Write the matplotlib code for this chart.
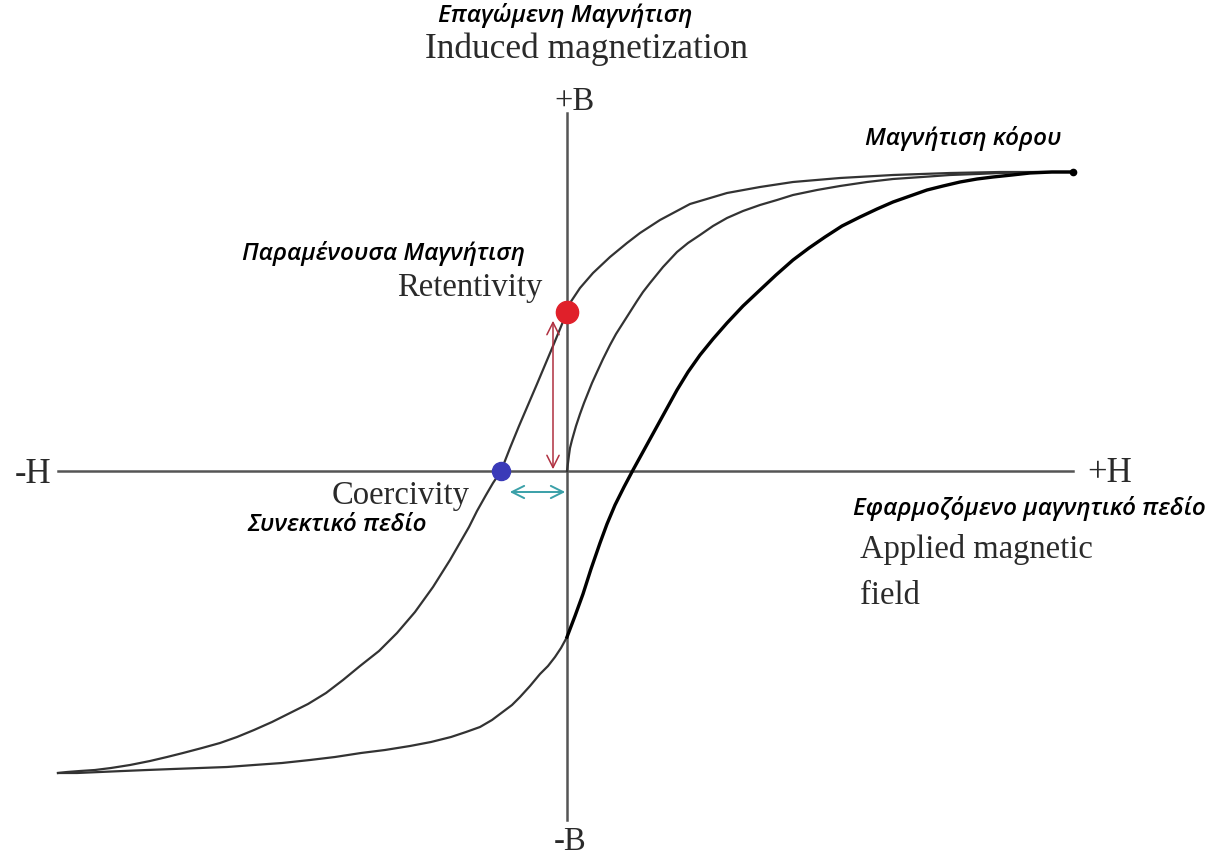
import matplotlib
matplotlib.use('Agg')
import matplotlib.pyplot as plt

# hysteresis loop, H and B in picture units (origin at axis crossing)
upper_H = [506, 433, 383, 326, 273, 226, 193, 160, 123, 93, 73, 60, 43, 26, 13, 3, 0,
           -7, -14, -22, -30, -39, -48, -57, -66, -74, -81, -90, -98, -117, -134, -152, -170,
           -188, -207, -224, -241, -259, -277, -295, -313, -330, -347, -365, -384, -400,
           -417, -437, -456, -472, -487, -500, -509]
upper_B = [299, 299, 298, 296, 293, 289, 284, 278, 267, 251, 238, 228, 214, 198, 183, 168, 159,
           142, 125, 106, 87, 66, 45, 23, 0, -12, -24, -40, -56, -89, -116, -141, -162,
           -180, -195, -209, -222, -233, -242, -251, -259, -266, -272, -277, -282, -286,
           -290, -294, -297, -299, -300, -301, -302]

initial_H = [0, 1, 2, 3, 5, 9, 13, 17, 21, 25, 30, 36, 43, 49, 56, 63, 70, 76, 83, 96, 110,
             121, 133, 146, 160, 176, 193, 210, 226, 250, 273, 300, 326, 355, 383, 410, 433, 470, 506]
initial_B = [0, 8, 16, 23, 31, 45, 57, 68, 78, 88, 99, 112, 126, 137, 148, 159, 170, 179, 188, 204, 219,
             228, 236, 245, 253, 260, 266, 271, 276, 281, 285, 289, 292, 294, 296, 297, 298, 299, 299]

lower_H = [-509, -490, -467, -444, -420, -394, -367, -340, -313, -285, -257, -232, -206,
           -182, -157, -136, -116, -101, -87, -75, -63, -55, -47, -37, -27, -19, -12, -6, 0]
lower_B = [-302, -302, -301, -300, -299, -298, -297, -296, -294, -292, -289, -286, -282,
           -279, -275, -271, -266, -261, -256, -249, -240, -234, -226, -215, -203, -195, -186, -177, -166]

bold_H = [0, 8, 16, 24, 33, 40, 48, 57, 66, 77, 88, 99, 110, 121, 133, 146, 160, 176, 193,
          209, 226, 242, 258, 275, 293, 310, 326, 343, 360, 376, 393, 410, 426, 445, 463, 485, 506]
bold_B = [-166, -145, -123, -98, -72, -53, -34, -16, 1, 21, 41, 61, 81, 99, 116, 132, 148, 165, 181,
          196, 211, 223, 234, 245, 254, 262, 269, 275, 281, 285, 289, 292, 294, 296, 298, 299, 299]

retentivity = (0, 159)
coercivity = (-66, 0)
saturation = (506, 299)

serif = 'Liberation Serif'
greek = dict(family='Open Sans', style='italic', weight=600, fontsize=17.5, color='black')
eng = dict(family=serif, fontsize=23.5, color='#2a2a2a')

fig = plt.figure(figsize=(12.29, 8.55), dpi=100)
ax = fig.add_axes([0, 0, 1, 1])
ax.set_xlim(-567, 662)
ax.set_ylim(-384, 471)
ax.axis('off')

# axes lines
ax.plot([-509, 506], [0, 0], color='#555555', lw=1.8)
ax.plot([0, 0], [358, -349], color='#555555', lw=1.8)

# curves
ax.plot(upper_H, upper_B, color='#333333', lw=1.6, solid_joinstyle='round')
ax.plot(initial_H, initial_B, color='#333333', lw=1.6, solid_joinstyle='round')
ax.plot(lower_H, lower_B, color='#333333', lw=1.6, solid_joinstyle='round')
ax.plot(bold_H, bold_B, color='black', lw=2.4, solid_joinstyle='round')

# arrows
ax.annotate('', xy=(-14, 153), xytext=(-14, -1),
            arrowprops=dict(arrowstyle='<->', color='#b03040', lw=1.1, mutation_scale=22))
ax.annotate('', xy=(-60, -21), xytext=(1, -21),
            arrowprops=dict(arrowstyle='<->', color='#3aa0a8', lw=1.4, mutation_scale=22))

# points
ax.plot(*retentivity, 'o', color='#e0202a', ms=16, zorder=5)
ax.plot(*coercivity, 'o', color='#3a3ab8', ms=13, zorder=5)
ax.plot(*saturation, 'o', color='black', ms=4.5, zorder=5)

# labels
ax.text(-129, 449, 'Επαγώμενη Μαγνήτιση', ha='left', va='baseline', **greek)
ax.text(-142, 413, 'Induced magnetization', ha='left', va='baseline',
        family=serif, fontsize=25.5, color='#2a2a2a')
ax.text(8, 361, '+B', ha='center', va='baseline', **eng)
ax.text(298, 326, 'Μαγνήτιση κόρου', ha='left', va='baseline', **greek)
ax.text(-325, 211, 'Παραμένουσα Μαγνήτιση', ha='left', va='baseline', **greek)
ax.text(-25, 175, 'Retentivity', ha='right', va='baseline', **eng)
ax.text(-534, -12, '-H', ha='center', va='baseline', family=serif, fontsize=25, color='#2a2a2a')
ax.text(520, -11, '+H', ha='left', va='baseline', family=serif, fontsize=25, color='#2a2a2a')
ax.text(-97, -33, 'Coercivity', ha='right', va='baseline', **eng)
ax.text(-320, -60, 'Συνεκτικό πεδίο', ha='left', va='baseline', **greek)
ax.text(286, -44, 'Εφαρμοζόμενο μαγνητικό πεδίο', ha='left', va='baseline', **greek)
ax.text(293, -87, 'Applied magnetic', ha='left', va='baseline', **eng)
ax.text(293, -133, 'field', ha='left', va='baseline', **eng)
ax.text(3, -379, '-B', ha='center', va='baseline', **eng)

fig.savefig('out.png', dpi=100, facecolor='white')
